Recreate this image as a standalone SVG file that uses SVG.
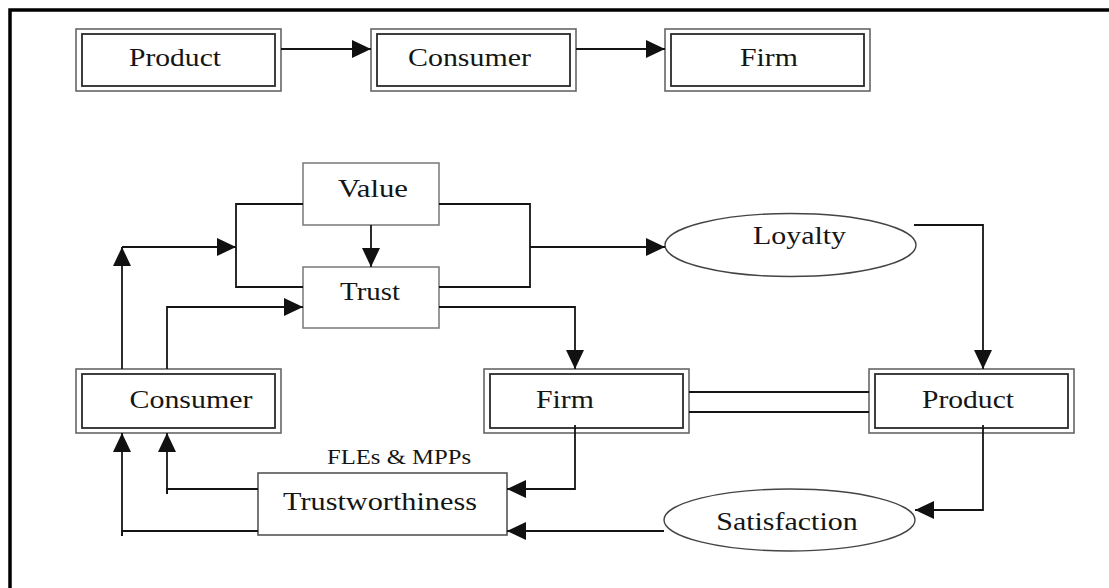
<svg xmlns="http://www.w3.org/2000/svg" width="1109" height="588" viewBox="0 0 1109 588">
  <defs>
    <marker id="arrow" viewBox="0 0 19 18" refX="19" refY="9" markerWidth="19" markerHeight="18" markerUnits="userSpaceOnUse" orient="auto">
      <path d="M0,0 L19,9 L0,18 Z" fill="#111"/>
    </marker>
    <style>
      .outer { fill: #fff; stroke: #666; stroke-width: 1.6; }
      .inner { fill: none; stroke: #2a2a2a; stroke-width: 1.8; }
      .plain { fill: #fff; stroke: #808080; stroke-width: 1.6; }
      .oval { fill: #fff; stroke: #444; stroke-width: 1.4; }
      .lbl { font-family: "Liberation Serif", "Times New Roman", serif; font-size: 26px; fill: #151515; text-anchor: middle; }
      .small { font-size: 21.5px; }
      .wire { fill: none; stroke: #151515; stroke-width: 1.8; }
      .frame { fill: none; stroke: #000; stroke-width: 3.5; }
    </style>
  </defs>

  <rect width="1109" height="588" fill="#fff"/>
  <path class="frame" d="M10,588 V10 H1109"/>

  <!-- top row: Product -> Consumer -> Firm -->
  <g id="top-product">
    <rect class="outer" x="76" y="29" width="205" height="62"/>
    <rect class="inner" x="82" y="34" width="193" height="52"/>
    <text class="lbl" x="175" y="66" textLength="92" lengthAdjust="spacingAndGlyphs">Product</text>
  </g>
  <g id="top-consumer">
    <rect class="outer" x="371" y="29" width="205" height="62"/>
    <rect class="inner" x="377" y="34" width="193" height="52"/>
    <text class="lbl" x="469.5" y="66" textLength="123" lengthAdjust="spacingAndGlyphs">Consumer</text>
  </g>
  <g id="top-firm">
    <rect class="outer" x="665" y="29" width="205" height="62"/>
    <rect class="inner" x="671" y="34" width="193" height="52"/>
    <text class="lbl" x="769" y="66" textLength="58" lengthAdjust="spacingAndGlyphs">Firm</text>
  </g>

  <!-- model nodes -->
  <g id="value">
    <rect class="plain" x="303" y="163" width="136" height="62"/>
    <text class="lbl" x="373" y="197" textLength="70" lengthAdjust="spacingAndGlyphs">Value</text>
  </g>
  <g id="trust">
    <rect class="plain" x="303" y="267" width="136" height="61"/>
    <text class="lbl" x="370" y="300" textLength="60" lengthAdjust="spacingAndGlyphs">Trust</text>
  </g>
  <g id="loyalty">
    <ellipse class="oval" cx="790.5" cy="245" rx="125.5" ry="31.5"/>
    <text class="lbl" x="799.5" y="244" textLength="93" lengthAdjust="spacingAndGlyphs">Loyalty</text>
  </g>
  <g id="consumer">
    <rect class="outer" x="76" y="369" width="205" height="64"/>
    <rect class="inner" x="82" y="374" width="193" height="54"/>
    <text class="lbl" x="191" y="408" textLength="123" lengthAdjust="spacingAndGlyphs">Consumer</text>
  </g>
  <g id="firm">
    <rect class="outer" x="484" y="369" width="205" height="64"/>
    <rect class="inner" x="490" y="374" width="193" height="54"/>
    <text class="lbl" x="565" y="408" textLength="58" lengthAdjust="spacingAndGlyphs">Firm</text>
  </g>
  <g id="product">
    <rect class="outer" x="869" y="369" width="205" height="64"/>
    <rect class="inner" x="875" y="374" width="193" height="54"/>
    <text class="lbl" x="968" y="408" textLength="92" lengthAdjust="spacingAndGlyphs">Product</text>
  </g>
  <g id="trustworthiness">
    <rect class="plain" x="258" y="473" width="249" height="62" style="stroke:#555"/>
    <text class="lbl small" x="399" y="464" textLength="144" lengthAdjust="spacingAndGlyphs">FLEs &amp; MPPs</text>
    <text class="lbl" x="380" y="510" textLength="194" lengthAdjust="spacingAndGlyphs">Trustworthiness</text>
  </g>
  <g id="satisfaction">
    <ellipse class="oval" cx="789.5" cy="520" rx="125.5" ry="31"/>
    <text class="lbl" x="787" y="530" textLength="141.5" lengthAdjust="spacingAndGlyphs">Satisfaction</text>
  </g>

  <!-- connectors -->
  <g id="connectors">
    <path class="wire" d="M281,49 H371" marker-end="url(#arrow)"/>
    <path class="wire" d="M576,49 H665" marker-end="url(#arrow)"/>

    <!-- Value / Trust brackets -->
    <path class="wire" d="M303,204 H236 V287 H303"/>
    <path class="wire" d="M439,204 H530 V287 H439"/>
    <path class="wire" d="M530,247 H665" marker-end="url(#arrow)"/>
    <path class="wire" d="M371,225 V267" marker-end="url(#arrow)"/>

    <!-- Consumer up into the model -->
    <path class="wire" d="M122,369 V247" marker-end="url(#arrow)"/>
    <path class="wire" d="M122,247 H236" marker-end="url(#arrow)"/>
    <path class="wire" d="M167,369 V307 H303" marker-end="url(#arrow)"/>

    <!-- Trust -> Firm, Loyalty -> Product -->
    <path class="wire" d="M439,307 H575 V369" marker-end="url(#arrow)"/>
    <path class="wire" d="M914,225 H983 V369" marker-end="url(#arrow)"/>

    <!-- Firm = Product link -->
    <path class="wire" d="M689,392 H869 M689,412 H869"/>

    <!-- feedback to Trustworthiness and Consumer -->
    <path class="wire" d="M575,425 V489 H507" marker-end="url(#arrow)"/>
    <path class="wire" d="M983,425 V510 H915" marker-end="url(#arrow)"/>
    <path class="wire" d="M664,531 H507" marker-end="url(#arrow)"/>
    <path class="wire" d="M258,489 H167 V494"/>
    <path class="wire" d="M167,494 V433" marker-end="url(#arrow)"/>
    <path class="wire" d="M258,531 H122 V536"/>
    <path class="wire" d="M122,536 V433" marker-end="url(#arrow)"/>
  </g>
</svg>
